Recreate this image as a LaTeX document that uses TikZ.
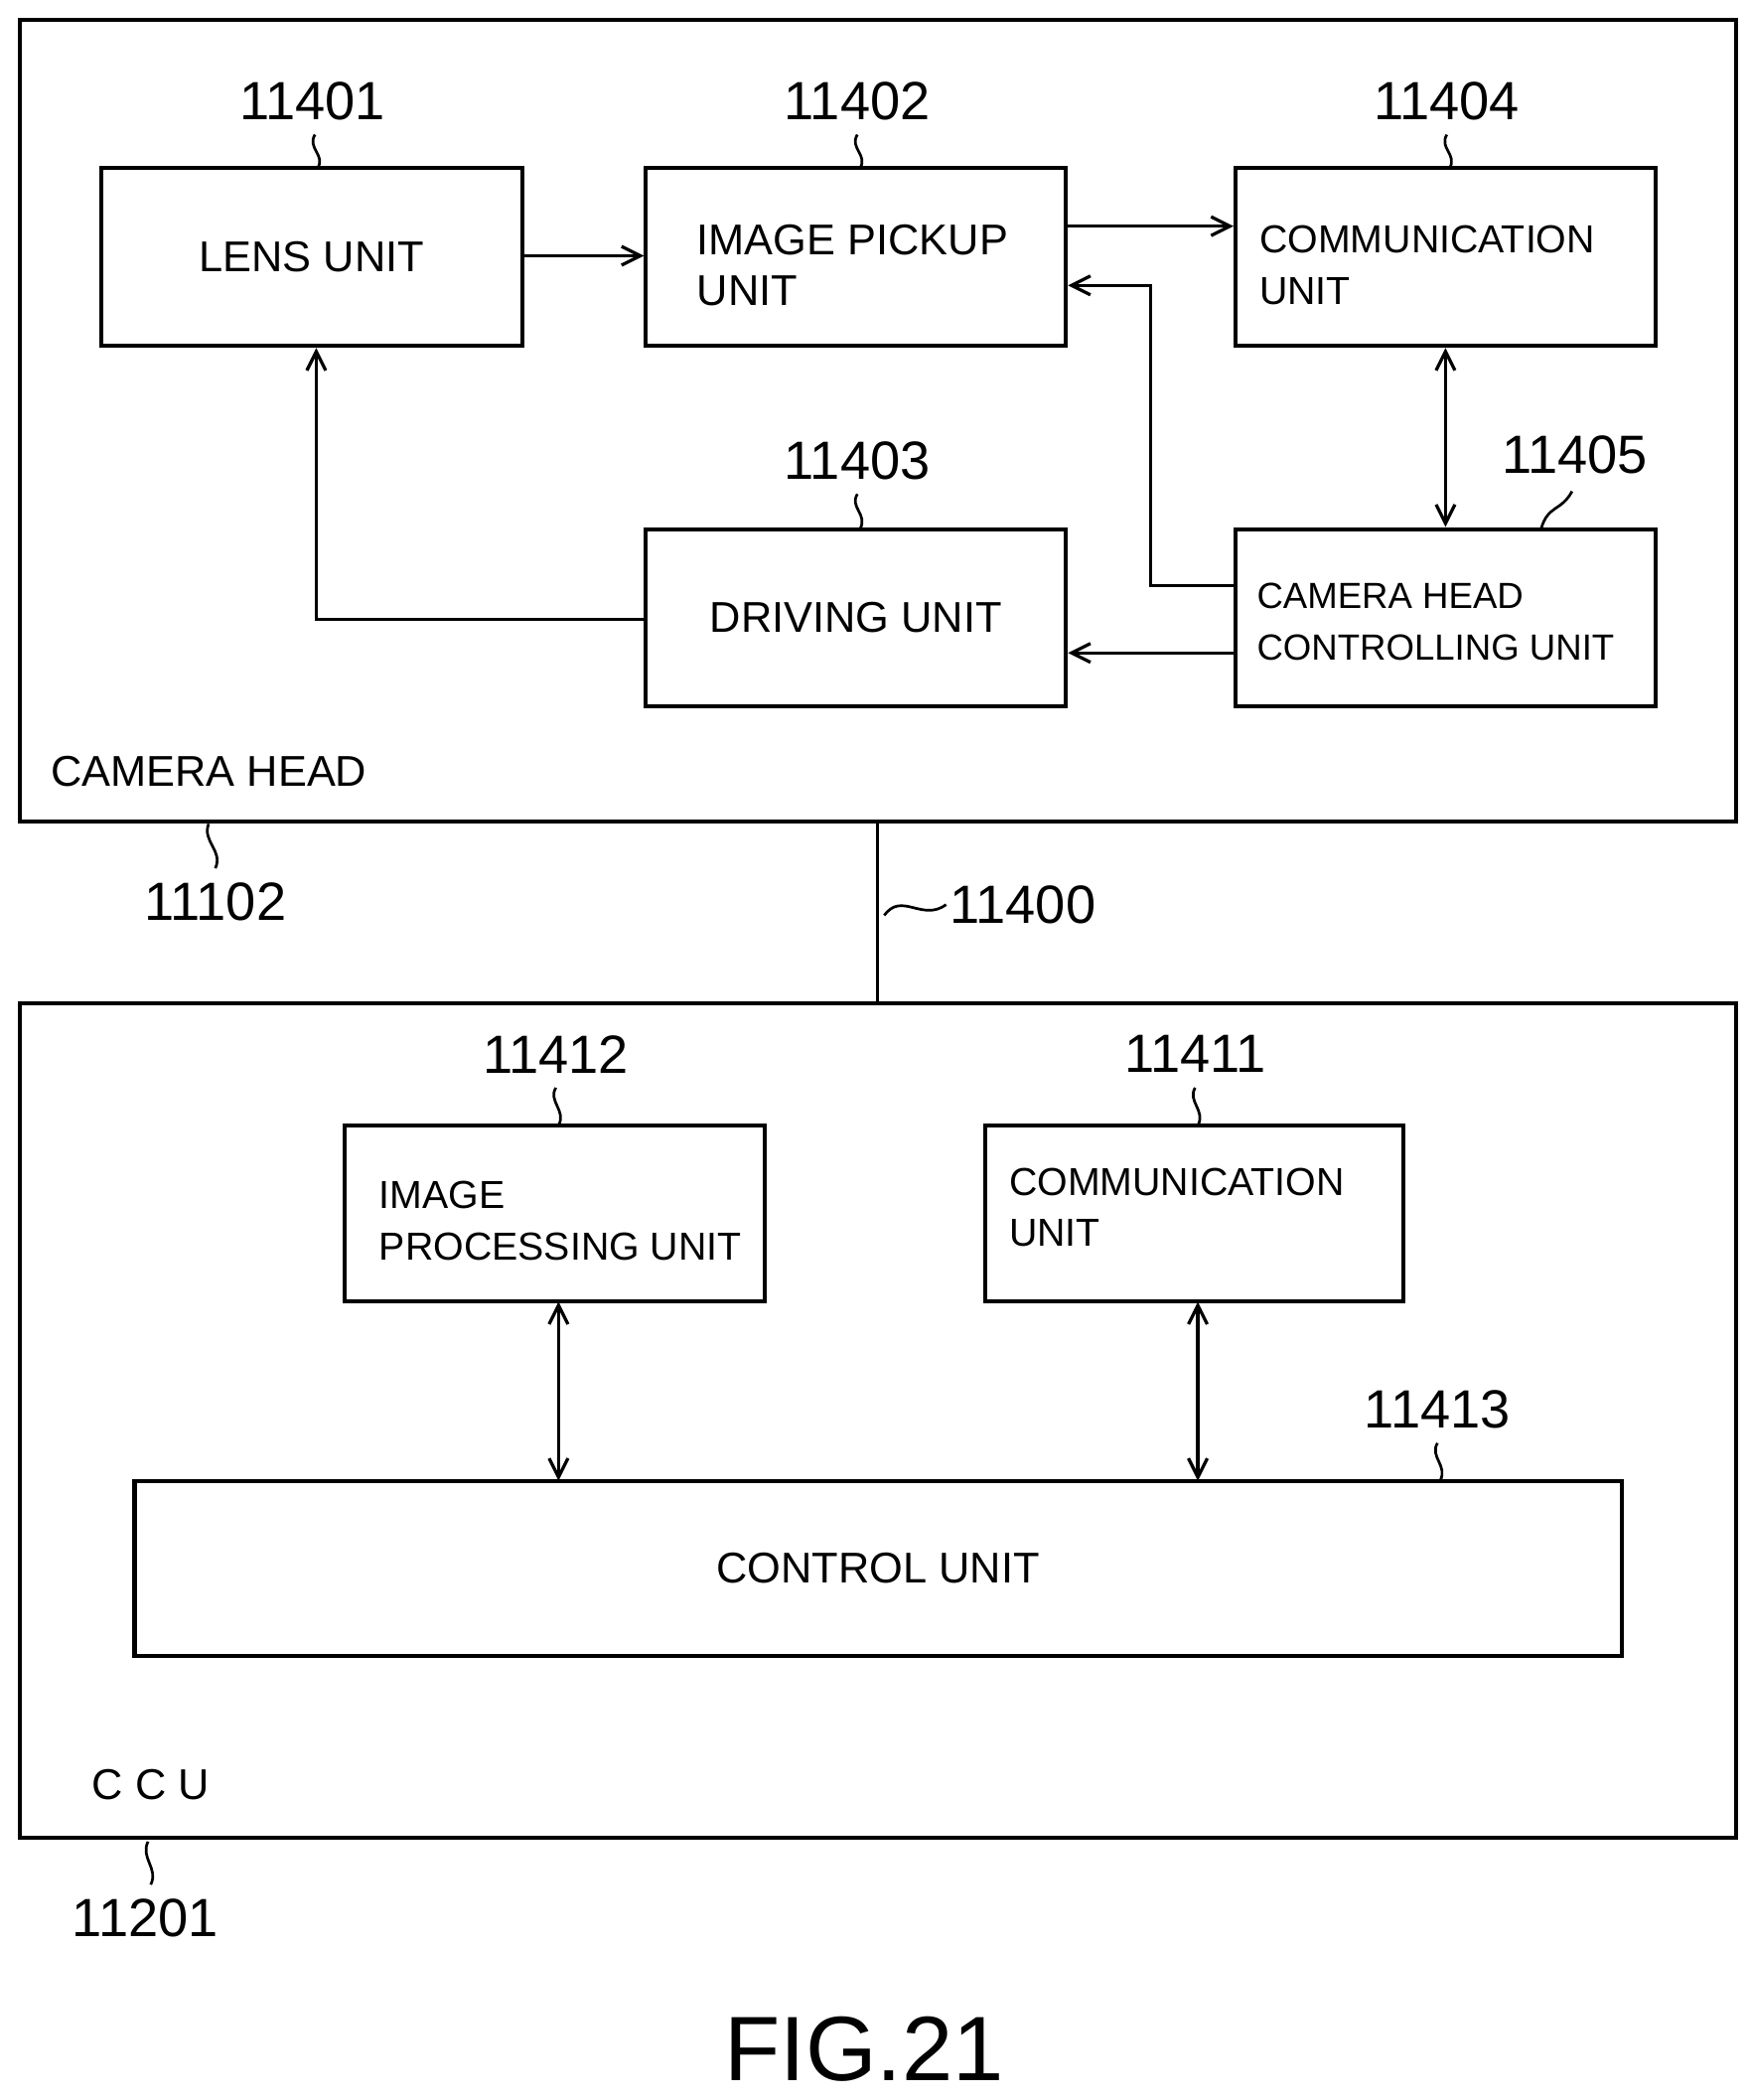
\documentclass[tikz,border=0pt]{standalone}
\usepackage{fontspec}
\setmainfont{Liberation Sans}
\usetikzlibrary{arrows.meta}
\begin{document}
\begin{tikzpicture}[x=0.5pt,y=-0.5pt,line width=1.2pt,
  box/.style={draw,rectangle,line width=1.5pt},
  lbl/.style={font=\fontsize{16}{19}\selectfont,align=left},
  slbl/.style={font=\fontsize{14.5}{19}\selectfont,align=left},
  num/.style={font=\fontsize{20}{22}\selectfont},
  arr/.style={-{Straight Barb[length=7pt,width=7pt]}},
  darr/.style={{Straight Barb[length=7pt,width=7pt]}-{Straight Barb[length=7pt,width=7pt]}},
  lead/.style={line width=1pt}]
\useasboundingbox (0,0) rectangle (1300,1560);
% camera head
\draw[box] (15,15) rectangle (1290,610);
\node[box,minimum width=156.5pt,minimum height=66pt] (lens) at (231.5,191) {};
\node[lbl] at (lens) {LENS UNIT};
\node[box,minimum width=156pt,minimum height=66pt] (pick) at (636,191) {};
\node[lbl,anchor=west] at (510,197) {IMAGE PICKUP\\UNIT};
\node[box,minimum width=156pt,minimum height=66pt] (comm) at (1074,191) {};
\node[slbl,anchor=west] at (928,197) {COMMUNICATION\\UNIT};
\node[box,minimum width=156pt,minimum height=66pt] (drv) at (636,459) {};
\node[lbl] at (drv) {DRIVING UNIT};
\node[box,minimum width=156pt,minimum height=66pt] (chcu) at (1074,459) {};
\node[slbl,anchor=west,font=\fontsize{13.5}{19}\selectfont] at (926,462) {CAMERA HEAD\\CONTROLLING UNIT};
\node[lbl,anchor=west] (chl) at (30,573) {CAMERA HEAD};
% numbers
\node[num] (n1) at (232,75) {11401};
\node[num] (n2) at (637,75) {11402};
\node[num] (n4) at (1075,75) {11404};
\node[num] (n3) at (637,342) {11403};
\node[num] (n5) at (1170,338) {11405};
\node[num] (n6) at (160,670) {11102};
\node[num] (n7) at (760,672) {11400};
\draw[lead] (234,100) .. controls (228,110) and (242,115) .. (236,125);
\draw[lead] (637,100) .. controls (631,110) and (645,115) .. (639,125);
\draw[lead] (1075,100) .. controls (1069,110) and (1083,115) .. (1077,125);
\draw[lead] (637,367) .. controls (631,377) and (645,382) .. (639,393);
\draw[lead] (1168,365) .. controls (1160,380) and (1150,375) .. (1145,393);
\draw[lead] (155,612) .. controls (150,625) and (166,632) .. (160,645);
\draw[lead] (657,680) .. controls (670,662) and (685,685) .. (703,672);
% arrows
\draw[arr] (lens.east |- 0,190) -- (pick.west |- 0,190);
\draw[arr] (pick.east |- 0,168) -- (comm.west |- 0,168);
\draw[arr] (chcu.west |- 0,435) -- (855,435) -- (855,212) -- (pick.east |- 0,212);
\draw[darr] (comm.south) -- (chcu.north);
\draw[arr] (chcu.west |- 0,485) -- (drv.east |- 0,485);
\draw[arr] (drv.west |- 0,460) -- (235,460) -- (lens.south -| 235,0);
% cable
\coordinate (cb) at (652,610);
\coordinate (cc) at (652,745);
\draw (cb) -- (cc);
% CCU
\draw[box] (15,745) rectangle (1290,1365);
\node[box,minimum width=156pt,minimum height=65.5pt] (ip) at (412,901.5) {};
\node[slbl,anchor=west] at (274,907) {IMAGE\\PROCESSING UNIT};
\node[box,minimum width=155.5pt,minimum height=65.5pt] (cm2) at (887.5,901.5) {};
\node[slbl,anchor=west] at (742,897) {COMMUNICATION\\UNIT};
\node[box,minimum width=552.5pt,minimum height=65pt] (ctl) at (652.5,1165) {};
\node[lbl] at (ctl) {CONTROL UNIT};
\draw[darr] (415,967) -- (415,1100);
\draw[darr] (890,967) -- (890,1100);
\node[num] (n8) at (413,783) {11412};
\node[num] (n9) at (888,783) {11411};
\node[num] (n10) at (1068,1047) {11413};
\node[num] (n11) at (108,1425) {11201};
\node[lbl] (ccul) at (112,1326) {C C U};
\draw[lead] (413,808) .. controls (407,818) and (421,825) .. (415,836);
\draw[lead] (888,808) .. controls (882,818) and (896,825) .. (890,836);
\draw[lead] (1068,1072) .. controls (1062,1082) and (1076,1089) .. (1070,1100);
\draw[lead] (110,1368) .. controls (104,1380) and (118,1388) .. (112,1400);
\node[font=\fontsize{34}{38}\selectfont] (fig) at (642,1522) {FIG.21};
\end{tikzpicture}
\end{document}
